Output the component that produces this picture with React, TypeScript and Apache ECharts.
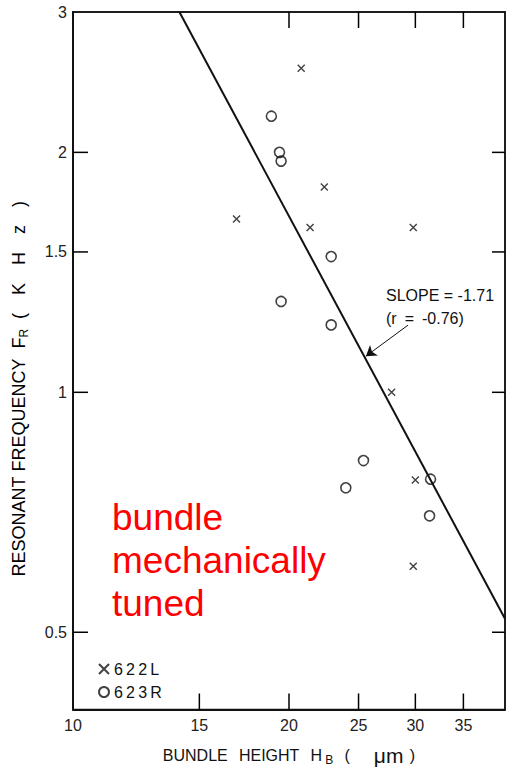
import React, { useEffect, useRef } from "react";
import * as echarts from "echarts";

// Specimen 622L (x markers): bundle height (µm), resonant frequency (kHz)
const x622L = [20.8, 22.4, 21.4, 29.8, 16.9, 27.8, 30.0, 29.8];
const y622L = [2.55, 1.81, 1.61, 1.61, 1.65, 1.0, 0.776, 0.605];
// Specimen 623R (o markers)
const x623R = [18.9, 19.4, 19.5, 22.9, 19.5, 22.9, 25.4, 24.0, 31.5, 31.4];
const y623R = [2.22, 2.0, 1.95, 1.48, 1.3, 1.215, 0.821, 0.759, 0.778, 0.7];
// Regression line end points
const fitX = [14.07, 40];
const fitY = [3, 0.52];
// Arrow pointing to the regression line
const arrowX = [29.3, 25.6];
const arrowY = [1.214, 1.11];
// Axis ranges, ticks and labels
const X_MIN = 10;
const X_MAX = 40;
const Y_MIN = 0.4;
const Y_MAX = 3;
const xTickLabels = [10, 15, 20, 25, 30, 35];
const xTicksBottom = [15, 20, 25, 30, 35];
const xTicksTop = [20, 25, 30, 35];
const yTickLabels = [0.5, 1, 1.5, 2, 3];
const yTicks = [0.5, 1, 1.5, 2];

const FONT = "'Liberation Sans', Arial, sans-serif";
const INK = "#111";

export default function App() {
  const ref = useRef<HTMLDivElement>(null);

  useEffect(() => {
    if (!ref.current) return;
    const chart = echarts.init(ref.current, null, { renderer: "svg" });

    const pairs = (xs: number[], ys: number[]) => xs.map((x, i) => [x, ys[i]]);
    const fmt = (v: number) => String(+Number(v).toFixed(2));

    const logAxisBase = {
      type: "log",
      logBase: 10,
      splitLine: { show: false },
      minorTick: { show: false },
      axisTick: { show: false },
    };

    const textGraphics = [
      {
        id: "slope",
        type: "text",
        left: 386,
        top: 287,
        style: { text: "SLOPE = -1.71", fontSize: 16, fill: INK, fontFamily: FONT },
      },
      {
        id: "rval",
        type: "text",
        left: 386,
        top: 310,
        style: { text: "(r\u2002=\u2002-0.76)", fontSize: 16, fill: INK, fontFamily: FONT },
      },
      {
        id: "note",
        type: "text",
        left: 112,
        top: 496,
        style: {
          text: "bundle\nmechanically\ntuned",
          fontSize: 37,
          lineHeight: 43,
          fill: "#ff0000",
          fontFamily: FONT,
        },
      },
    ];

    const option: any = {
      animation: false,
      backgroundColor: "#fff",
      grid: {
        left: 73,
        top: 12,
        right: 3,
        bottom: 58,
        show: true,
        borderColor: INK,
        borderWidth: 1.5,
        backgroundColor: "transparent",
      },
      legend: {
        left: 93,
        top: 656,
        orient: "vertical",
        itemWidth: 10,
        itemHeight: 10,
        itemGap: 7,
        data: ["622L", "623R"],
        formatter: (n: string) => n.split("").join("\u2009"),
        textStyle: { fontSize: 16, color: INK, fontFamily: FONT },
      },
      xAxis: [
        {
          ...logAxisBase,
          min: X_MIN,
          max: X_MAX,
          position: "bottom",
          axisLine: { show: true, onZero: false, lineStyle: { color: INK, width: 2 } },
          axisLabel: {
            customValues: xTickLabels,
            formatter: fmt,
            fontSize: 16,
            color: "#222",
            margin: 8,
            fontFamily: FONT,
          },
          name:
            "BUNDLE\u2002\u2009HEIGHT\u2002\u2009H\u2009{sub|B}\u2002\u2009(\u2003\u2002{mu|\u03bcm}\u2009\u2009)",
          nameLocation: "middle",
          nameGap: 36,
          nameTextStyle: {
            fontSize: 16,
            color: INK,
            fontFamily: FONT,
            lineHeight: 20,
            rich: {
              sub: { fontSize: 12, color: INK, fontFamily: FONT, verticalAlign: "bottom", lineHeight: 12 },
              mu: { fontSize: 21, color: INK, fontFamily: FONT },
            },
          },
        },
        {
          ...logAxisBase,
          min: X_MIN,
          max: X_MAX,
          position: "top",
          axisLine: { show: true, onZero: false, lineStyle: { color: INK, width: 1.5 } },
          axisLabel: { show: false },
        },
      ],
      yAxis: [
        {
          ...logAxisBase,
          min: Y_MIN,
          max: Y_MAX,
          position: "left",
          axisLine: { show: true, onZero: false, lineStyle: { color: INK, width: 2 } },
          axisLabel: {
            customValues: yTickLabels,
            formatter: fmt,
            fontSize: 16,
            color: "#222",
            margin: 6,
            fontFamily: FONT,
          },
          name:
            "RESONANT\u00a0FREQUENCY\u00a0\u00a0F{sub|R}\u00a0\u00a0(\u2003K\u2003H\u2003z\u2003)",
          nameLocation: "middle",
          nameRotate: 90,
          nameGap: 43,
          nameTextStyle: {
            fontSize: 18,
            color: "#000",
            fontFamily: FONT,
            lineHeight: 22,
            padding: [0, 56, 0, 0],
            rich: {
              sub: { fontSize: 12, color: "#000", fontFamily: FONT, verticalAlign: "bottom", lineHeight: 14 },
            },
          },
        },
        {
          ...logAxisBase,
          min: Y_MIN,
          max: Y_MAX,
          position: "right",
          axisLine: { show: true, onZero: false, lineStyle: { color: INK, width: 1.5 } },
          axisLabel: { show: false },
        },
      ],
      series: [
        {
          name: "fit",
          type: "line",
          xAxisIndex: 0,
          yAxisIndex: 0,
          data: pairs(fitX, fitY),
          symbol: "none",
          lineStyle: { color: INK, width: 2 },
          itemStyle: { color: INK },
          silent: true,
          z: 3,
          markLine: {
            silent: true,
            symbol: ["none", "arrow"],
            symbolSize: 10,
            label: { show: false },
            itemStyle: { color: INK },
            lineStyle: { color: INK, width: 1, type: "solid" },
            data: [
              [
                { coord: [arrowX[0], arrowY[0]] },
                { coord: [arrowX[1], arrowY[1]] },
              ],
            ],
          },
        },
        {
          name: "622L",
          type: "scatter",
          xAxisIndex: 0,
          yAxisIndex: 0,
          data: pairs(x622L, y622L),
          symbol: "path://M0,0L8,8M8,0L0,8",
          symbolSize: 7,
          itemStyle: { color: "rgba(0,0,0,0)", borderColor: INK, borderWidth: 1.4 },
          z: 4,
        },
        {
          name: "623R",
          type: "scatter",
          xAxisIndex: 0,
          yAxisIndex: 0,
          data: pairs(x623R, y623R),
          symbol: "circle",
          symbolSize: 10,
          itemStyle: { color: "rgba(0,0,0,0)", borderColor: INK, borderWidth: 1.6 },
          z: 4,
        },
      ],
      graphic: textGraphics,
    };

    chart.setOption(option);

    // Inward tick marks, positioned through the chart's own log scales
    const toPx = (x: number, y: number) =>
      chart.convertToPixel({ xAxisIndex: 0, yAxisIndex: 0 }, [x, y]) as number[];
    const tickLines: any[] = [];
    const addTick = (x: number, y: number, dx: number, dy: number) => {
      const p = toPx(x, y);
      if (!p || isNaN(p[0]) || isNaN(p[1])) return;
      tickLines.push({
        id: "tick" + tickLines.length,
        type: "line",
        silent: true,
        z: 100,
        shape: { x1: p[0], y1: p[1], x2: p[0] + dx, y2: p[1] + dy },
        style: { stroke: "#000", lineWidth: 1.5 },
      });
    };
    xTicksBottom.forEach((v) => addTick(v, Y_MIN, 0, -16));
    xTicksTop.forEach((v) => addTick(v, Y_MAX, 0, 16));
    yTicks.forEach((v) => addTick(X_MIN, v, 15, 0));
    yTicks.forEach((v) => addTick(X_MAX, v, -13, 0));

    chart.setOption({ graphic: [...textGraphics, ...tickLines] });

    return () => chart.dispose();
  }, []);

  return (
    <div
      ref={ref}
      style={{ position: "fixed", left: 0, top: 0, width: 508, height: 771, background: "#fff" }}
    />
  );
}
